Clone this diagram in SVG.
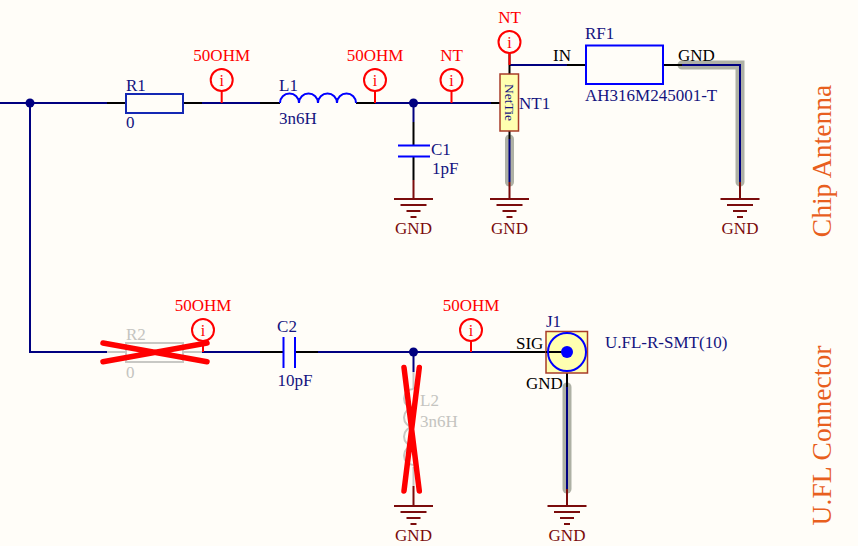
<svg xmlns="http://www.w3.org/2000/svg" width="858" height="546" viewBox="0 0 858 546">
<style>
text{font-family:"Liberation Serif","Times New Roman",serif;font-size:17px}
.mid{text-anchor:middle}
.lb{fill:#14147f}.red{fill:#ff0000}.blk{fill:#000}.dr{fill:#7b0c0c}.gr{fill:#c4c4c0}
.org{fill:#e85f1e;font-size:27.600px;text-anchor:middle}
.w,.k,.c,.d,.g,.p,.b,.hl,.x{fill:none}
.w{stroke:#000080;stroke-width:2}
.k{stroke:#000;stroke-width:2}
.c{stroke:#0000ff;stroke-width:2}
.d{stroke:#7b0c0c;stroke-width:2}
.g{stroke:#c8c8c4;stroke-width:2}
.p{stroke:#ff0000;stroke-width:2}
.hl{stroke:#aeb1a5;stroke-width:9;stroke-linecap:round;stroke-linejoin:miter}
.x{stroke:#ff0000;stroke-width:5.500;stroke-linecap:round}
.dot{fill:#000080}
</style>
<defs>
<g id="gnd"><path class="d" d="M-19.500 0H19.500M-13 6H13M-7 12H7M-3 18H3"/><text class="dr mid" y="35">GND</text></g>
<g id="probe"><circle class="p" cx="0" cy="0" r="11"/><text class="red mid" y="5.500" style="font-size:16px">i</text></g>
</defs>
<rect width="858" height="546" fill="#fffdf8"/>

<g id="highlights">
<path class="hl" d="M682 65H740V182"/>
<path class="hl" d="M509.500 139V182"/>
<path class="hl" d="M567 387V489"/>
</g>

<g id="connectors">
<path class="w" d="M0 103H107M202 103H260M375 103H491M30 103V352H107M202 352H260M318 352H510"/>
<path class="k" d="M107 103H126M183 103H202M260 103H280M356 103H375M491 103H500"/>
<path class="w" d="M413.500 103V122M509.500 65H567M682 65H740V182M509.500 139V182M567 387V489M413.500 352V372"/>
<path class="k" d="M413.500 122V145M413.500 157V180M509.500 53V74M509.500 131V139M567 65H586M663 65H682M260 352H283M295 352H318M510 352H567M567 373V387"/>
<path class="d" d="M413.500 180V199M509.500 182V199M740 182V199M413.500 486V506M567 489V506"/>
<path class="p" d="M221.700 91V103M375 91V103M451.500 91V103M509.500 53V65M203 341V352M471 341V352"/>
<path class="g" d="M107 352H126M183 352H202M413.500 372V389M413.500 467V486"/>
<circle class="dot" cx="30" cy="103" r="4.500"/>
<circle class="dot" cx="413.500" cy="103" r="4.500"/>
<circle class="dot" cx="413.500" cy="352" r="4.500"/>
</g>

<g id="R1"><rect x="126" y="94" width="57" height="19" fill="none" stroke="#1428b4" stroke-width="2"/><text class="lb" x="126" y="91">R1</text><text class="lb" x="126" y="128">0</text></g>
<g id="L1"><path class="c" d="M280 103a9.500 9.500 0 0 1 19 0a9.500 9.500 0 0 1 19 0a9.500 9.500 0 0 1 19 0a9.500 9.500 0 0 1 19 0"/><text class="lb" x="279" y="91">L1</text><text class="lb" x="279" y="124">3n6H</text></g>
<g id="C1"><path class="c" d="M398 145.500H430M398 156.500H430"/><text class="lb" x="431" y="155">C1</text><text class="lb" x="432" y="174">1pF</text></g>
<g id="NT1"><rect x="500" y="74" width="18.500" height="57" fill="#ffffb0" stroke="#a83c28" stroke-width="1.500"/><text class="lb" transform="translate(504.500 84) rotate(90)" style="font-size:13.500px">NetTie</text><text class="lb" x="519" y="109">NT1</text></g>
<g id="RF1"><rect x="586" y="45.500" width="77" height="38.500" fill="none" stroke="#0000ff" stroke-width="2"/><text class="lb" x="585" y="39">RF1</text><text class="lb" x="585" y="101">AH316M245001-T</text><text class="blk" x="553" y="61">IN</text><text class="blk" x="678" y="61">GND</text></g>

<g id="probe1"><use href="#probe" x="221.700" y="80"/><text class="red mid" x="221.700" y="61">50OHM</text></g>
<g id="probe2"><use href="#probe" x="375" y="80"/><text class="red mid" x="375" y="61">50OHM</text></g>
<g id="probe3"><use href="#probe" x="451.500" y="80"/><text class="red mid" x="451.500" y="61">NT</text></g>
<g id="probe4"><use href="#probe" x="509.500" y="42"/><text class="red mid" x="509.500" y="23">NT</text></g>

<g id="gnd1"><use href="#gnd" x="413.500" y="199"/></g>
<g id="gnd2"><use href="#gnd" x="509.500" y="199"/></g>
<g id="gnd3"><use href="#gnd" x="740" y="199"/></g>

<g id="R2"><rect x="126" y="343" width="57" height="19" fill="none" stroke="#c8c8c4" stroke-width="2"/><text class="gr" x="126" y="340">R2</text><text class="gr" x="126" y="378">0</text></g>
<g id="C2"><path class="c" d="M283.500 337V368M295 337V368"/><text class="lb mid" x="287" y="332">C2</text><text class="lb mid" x="295" y="386">10pF</text></g>
<g id="L2"><path class="g" d="M413.500 389a9.500 9.500 0 0 0 0 19a9.500 9.500 0 0 0 0 19a9.500 9.500 0 0 0 0 19a9.500 9.500 0 0 0 0 19"/><text class="gr" x="420" y="406">L2</text><text class="gr" x="420" y="427">3n6H</text></g>
<g id="J1"><rect x="546" y="331.500" width="41.500" height="41.500" fill="#ffffb0" stroke="#a83c28" stroke-width="1.500"/><path class="k" d="M546 352H567"/><circle class="c" cx="567" cy="352" r="19"/><circle cx="567" cy="352" r="6" fill="#0000ff"/><text class="lb" x="546" y="327">J1</text><text class="blk" x="516" y="349">SIG</text><text class="blk" x="526" y="389">GND</text><text class="lb" x="605" y="348">U.FL-R-SMT(10)</text></g>

<g id="probe5"><use href="#probe" x="203" y="330"/><text class="red mid" x="203" y="311">50OHM</text></g>
<g id="probe6"><use href="#probe" x="471" y="330"/><text class="red mid" x="471" y="311">50OHM</text></g>

<g id="gnd4"><use href="#gnd" x="413.500" y="506"/></g>
<g id="gnd5"><use href="#gnd" x="567" y="506"/></g>

<g id="crosses">
<path class="x" d="M103 343L207 361.700M103 361.700L207 343"/>
<path class="x" d="M404 367.500L419.300 491M419.300 367.500L404 491"/>
</g>

<g id="titles">
<text class="org" transform="translate(830.500 161) rotate(-90)">Chip Antenna</text>
<text class="org" transform="translate(830.500 435.500) rotate(-90)">U.FL Connector</text>
</g>
</svg>
